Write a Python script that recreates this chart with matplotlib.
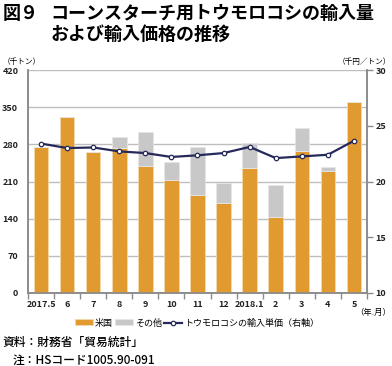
import matplotlib
matplotlib.use('Agg')
import matplotlib.pyplot as plt
import numpy as np

plt.rcParams['font.family'] = ['Noto Sans CJK JP', 'DejaVu Sans']

# data
months = ['2017.5', '6', '7', '8', '9', '10', '11', '12', '2018.1', '2', '3', '4', '5']
usa = [275, 331, 266, 273, 239, 213, 184, 169, 236, 143, 267, 230, 360]
total = [275, 331, 266, 294, 304, 247, 275, 207, 283, 203, 311, 238, 360]
other = [t - u for t, u in zip(total, usa)]
price = [23.4, 23.0, 23.05, 22.7, 22.55, 22.2, 22.35, 22.55, 23.1, 22.1, 22.25, 22.4, 23.65]

orange = '#E09A30'
grey = '#C8C8C8'
navy = '#262A5A'
axis_col = '#8C8C8C'

fig = plt.figure(figsize=(3.92, 3.66), dpi=100)
ax = fig.add_axes([28 / 392, 1 - 293 / 366, 339 / 392, 223 / 366])

x = np.arange(len(months))
ax.bar(x, usa, width=0.56, color=orange, edgecolor='#F3D9A8', linewidth=0.6, zorder=3, label='米国')
ax.bar(x, other, bottom=usa, width=0.56, color=grey, edgecolor='#E6E6E6', linewidth=0.6, zorder=3, label='その他')

ax.set_xlim(-0.5, len(months) - 0.5)
ax.set_ylim(0, 420)
ax.set_yticks(np.arange(0, 421, 70))
ax.yaxis.grid(True, color='#BEBEBE', linewidth=1.0, zorder=0)
ax.set_axisbelow(True)
ax.tick_params(axis='y', length=0, labelsize=6.5, pad=7, colors='#222222')
ax.set_xticks(x)
ax.set_xticklabels(months)
ax.set_xticks(np.arange(-0.5, len(months), 1), minor=True)
ax.tick_params(axis='x', which='major', length=0, labelsize=6.5, pad=5, colors='#222222')
ax.tick_params(axis='x', which='minor', length=4, color=axis_col, width=1)
for lab in ax.get_xticklabels() + ax.get_yticklabels():
    lab.set_fontweight('bold')

for s in ['left', 'bottom', 'right']:
    ax.spines[s].set_color(axis_col)
    ax.spines[s].set_linewidth(1.2)
ax.spines['top'].set_visible(False)

ax2 = ax.twinx()
ax2.plot(x, price, color=navy, linewidth=1.6, marker='o', markersize=3.2,
         markerfacecolor='white', markeredgecolor=navy, markeredgewidth=0.9, zorder=5,
         label='トウモロコシの輸入単価（右軸）')
ax2.set_ylim(10, 30)
ax2.set_yticks(np.arange(10, 31, 5))
ax2.tick_params(axis='y', length=4, color=axis_col, width=1, labelsize=6.5, pad=2, colors='#222222')
for lab in ax2.get_yticklabels():
    lab.set_fontweight('bold')
    lab.set_color('#222222')
for s in ['left', 'bottom', 'right']:
    ax2.spines[s].set_color(axis_col)
    ax2.spines[s].set_linewidth(1.2)
ax2.spines['top'].set_visible(False)

# titles and notes
fig.text(3 / 392, 1 - 19 / 366, '図９', fontsize=13, fontweight='bold', va='baseline')
fig.text(50 / 392, 1 - 19 / 366, 'コーンスターチ用トウモロコシの輸入量', fontsize=13, fontweight='bold', va='baseline')
fig.text(50 / 392, 1 - 40 / 366, 'および輸入価格の推移', fontsize=13, fontweight='bold', va='baseline')
fig.text(3 / 392, 1 - 64 / 366, '（千トン）', fontsize=5.5, va='baseline')
fig.text(391 / 392, 1 - 64 / 366, '（千円／トン）', fontsize=5.5, va='baseline', ha='right')
fig.text(391 / 392, 1 - 315 / 366, '（年.月）', fontsize=6, va='baseline', ha='right')

h1, l1 = ax.get_legend_handles_labels()
h2, l2 = ax2.get_legend_handles_labels()
fig.legend(h1 + h2, l1 + l2, loc='center', bbox_to_anchor=(197 / 392, 1 - 323 / 366), ncol=3,
           frameon=False, fontsize=6.5, handlelength=2.0, handleheight=0.6, handletextpad=0.15,
           columnspacing=0.3, borderaxespad=0, borderpad=0)

fig.text(2 / 392, 1 - 346 / 366, '資料：財務省「貿易統計」', fontsize=8.5, fontweight='medium', va='baseline')
fig.text(13 / 392, 1 - 364 / 366, '注：HSコード1005.90-091', fontsize=8.5, fontweight='medium', va='baseline')

fig.savefig('out.png', dpi=100)
